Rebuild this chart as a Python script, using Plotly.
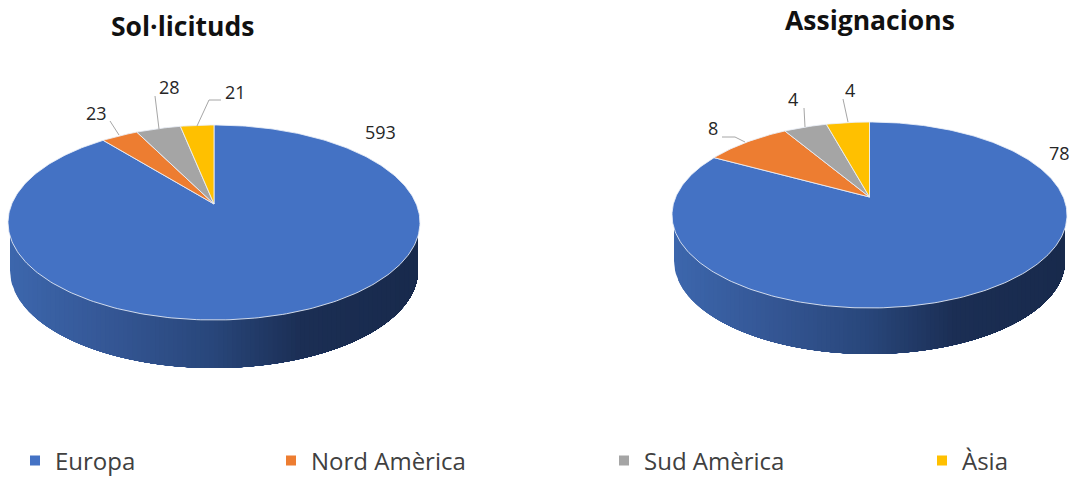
import math
import numpy as np
import plotly.graph_objects as go

categories = ["Europa", "Nord Amèrica", "Sud Amèrica", "Àsia"]
solicituds = [593, 23, 28, 21]
assignacions = [78, 8, 4, 4]
colors = ["#4472C4", "#ED7D31", "#A5A5A5", "#FFC000"]
W, H = 1073, 477

fig = go.Figure()


def lerp_color(t):
    stops = [(0.0, (60, 102, 172)), (0.25, (52, 86, 148)), (0.5, (40, 70, 122)),
             (0.72, (27, 46, 84)), (1.0, (24, 42, 76))]
    for (a, ca), (b, cb) in zip(stops, stops[1:]):
        if t <= b:
            f = (t - a) / (b - a)
            return "rgb(%d,%d,%d)" % tuple(round(x + (y - x) * f) for x, y in zip(ca, cb))
    return "rgb(24,42,76)"


def pie(values, left, right, top, bottom, hub_y, depth):
    cx = (left + right) / 2
    a = (right - left) / 2
    cy = (top + bottom) / 2
    b = (bottom - top) / 2
    k = ((hub_y - top) * -1 + (bottom - hub_y)) / (bottom - top)
    d = (hub_y - top) * (1 + k)
    A = a * math.sqrt(1 - k * k)

    # side wall, painted left to right so that strips leave no seams
    wa = a - 2
    xs = np.linspace(cx - wa, cx + wa, 91)
    for i in range(90):
        phi0 = math.acos(max(-1.0, min(1.0, (xs[i] - cx) / wa)))
        phi = np.linspace(phi0, 0, 90)
        xx = cx + wa * np.cos(phi)
        yy = cy + depth + b * np.sin(phi)
        px = np.r_[xx, xx[-1], xx[0]]
        py = np.r_[yy, cy, cy]
        fig.add_trace(go.Scatter(x=px, y=py, mode="lines", fill="toself",
                                 fillcolor=lerp_color(i / 89), line=dict(width=0),
                                 hoverinfo="skip", showlegend=False))

    def project(theta):
        u, v = np.sin(theta), np.cos(theta)
        s = 1 + k * v
        return cx + A * u / s, hub_y - d * v / s

    total = sum(values)
    end = 2 * math.pi
    # first slice begins at 12 o'clock and runs clockwise
    ang = 0.0
    for val, col, name in zip(values, colors, categories):
        span = val / total * end
        th = np.linspace(ang, ang + span, max(8, int(span * 60)))
        ex, ey = project(th)
        fig.add_trace(go.Scatter(
            x=np.r_[cx, ex, cx], y=np.r_[hub_y, ey, hub_y], mode="lines", fill="toself",
            fillcolor=col, line=dict(color="rgba(235,240,248,0.85)", width=1),
            name=name, hoverinfo="name", showlegend=False))
        ang += span


pie(solicituds, 8, 420, 125, 320, 204, 48)
pie(assignacions, 672, 1067, 122, 308, 197, 46)

# leader lines
leaders = [
    ([110, 119], [121, 135]),
    ([155, 159], [96, 129]),
    ([221, 209, 197], [100, 100, 126]),
    ([722, 735, 745], [137, 137, 142]),
    ([804, 805], [108, 127]),
    ([843, 848], [99, 122]),
]
for lx, ly in leaders:
    fig.add_trace(go.Scatter(x=lx, y=ly, mode="lines", line=dict(color="#A6A6A6", width=1),
                             hoverinfo="skip", showlegend=False))

# legends, one per category because the entries are unevenly spaced
legend_x = [15, 271, 604, 922]
layout_legends = {}
for i, (name, col, lxp) in enumerate(zip(categories, colors, legend_x)):
    key = "legend" if i == 0 else f"legend{i + 1}"
    fig.add_trace(go.Scatter(x=[None], y=[None], mode="markers", name=name, legend=key,
                             marker=dict(color=col, symbol="square", size=10)))
    layout_legends[key] = dict(x=lxp / W, y=1 - 461 / H, xanchor="left", yanchor="middle",
                               bgcolor="rgba(0,0,0,0)", itemsizing="trace", itemwidth=30,
                               font=dict(family="Open Sans", size=24, color="#404040"))

ann = []
for txt, x, y in [("23", 96, 113), ("28", 169, 87), ("21", 235, 92), ("593", 380, 132),
                  ("8", 713, 128), ("4", 793, 99), ("4", 850, 90), ("78", 1059, 153)]:
    ann.append(dict(x=x, y=y, text=txt, showarrow=False, xref="x", yref="y",
                    font=dict(family="Open Sans", size=18, color="#262626")))
for txt, x, y in [("Sol·licituds", 182, 26), ("Assignacions", 870, 20)]:
    ann.append(dict(x=x, y=y, text=f"<b>{txt}</b>", showarrow=False, xref="x", yref="y",
                    font=dict(family="Open Sans", size=26.5, color="#111111")))

fig.update_layout(
    width=W, height=H, margin=dict(l=0, r=0, t=0, b=0, autoexpand=False), paper_bgcolor="white",
    plot_bgcolor="white", annotations=ann, hovermode="closest",
    xaxis=dict(range=[0, W], visible=False, fixedrange=True),
    yaxis=dict(range=[H, 0], visible=False, fixedrange=True),
    **layout_legends,
)
fig.write_html("out.html", config={"displayModeBar": False},
               post_script="document.body.style.margin='0';document.documentElement.style.overflow='hidden';")
